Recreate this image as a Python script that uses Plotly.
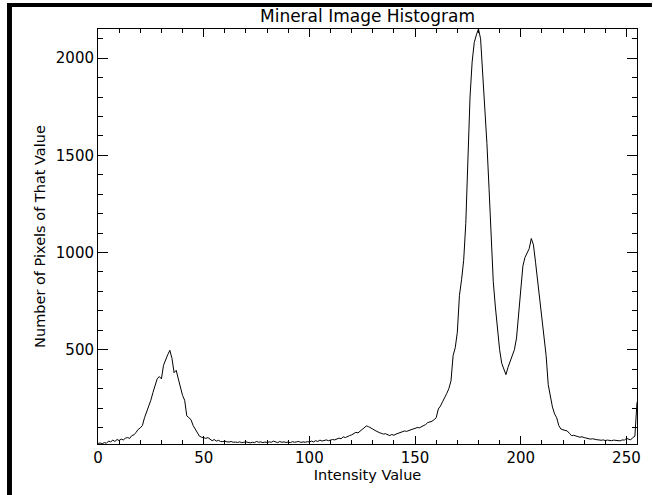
import plotly.graph_objects as go

# Histogram counts for intensity values 0..255
intensity = list(range(256))
counts = [
    18, 20, 17, 22, 19, 30, 26, 35, 28, 38,
    33, 40, 36, 45, 48, 44, 58, 62, 75, 90,
    98, 110, 150, 180, 205, 240, 280, 310, 350, 362,
    350, 420, 450, 475, 497, 455, 382, 394, 350, 305,
    265, 240, 160, 150, 140, 110, 92, 70, 55, 50,
    48, 44, 48, 40, 32, 38, 30, 34, 28, 27,
    30, 26, 25, 28, 24, 25, 23, 26, 22, 24,
    26, 23, 21, 24, 22, 28, 24, 26, 22, 25,
    23, 26, 24, 30, 25, 22, 28, 24, 26, 23,
    25, 22, 27, 24, 26, 28, 23, 26, 24, 27,
    25, 30, 26, 32, 28, 35, 30, 33, 36, 32,
    34, 38, 36, 40, 45, 42, 52, 48, 55, 58,
    62, 68, 75, 72, 80, 88, 96, 108, 104, 100,
    92, 85, 78, 74, 70, 66, 68, 62, 58, 64,
    60, 66, 70, 72, 78, 82, 80, 85, 88, 92,
    95, 100, 98, 104, 108, 115, 125, 128, 132, 140,
    150, 195, 210, 232, 250, 275, 300, 340, 470, 510,
    590, 780, 860, 960, 1150, 1450, 1800, 1980, 2080, 2120,
    2150, 2100, 1930, 1760, 1560, 1330, 1050, 850, 720, 600,
    500, 430, 400, 372, 410, 440, 460, 500, 560, 690,
    820, 930, 975, 995, 1020, 1072, 1040, 950, 860, 760,
    680, 590, 470, 320, 250, 205, 170, 150, 110, 92,
    88, 86, 82, 70, 58, 60, 55, 53, 50, 52,
    48, 46, 44, 40, 42, 38, 37, 36, 34, 36,
    33, 35, 34, 32, 35, 33, 34, 31, 36, 35,
    44, 38, 36, 48, 55, 230,
]

x_ticks = [0, 50, 100, 150, 200, 250]
y_ticks = [500, 1000, 1500, 2000]
title_text = "Mineral Image Histogram"
x_title = "Intensity Value"
y_title = "Number of Pixels of That Value"

FONT = "DejaVu Sans"
W, H = 653, 495
L, R, T, B = 98, 13, 29, 51
PW, PH = W - L - R, H - T - B


def px(xp):
    return (xp - L) / PW


def py(yp):
    return (H - B - yp) / PH


fig = go.Figure()
fig.add_trace(go.Scatter(
    x=intensity, y=counts, mode="lines",
    line=dict(color="black", width=1),
    hoverinfo="skip", showlegend=False,
))

axis_common = dict(
    ticks="inside", tickcolor="black", showline=True, linecolor="black",
    linewidth=1, mirror="allticks", showgrid=False, zeroline=False,
    tickfont=dict(family=FONT, size=15, color="black"),
)

fig.update_layout(
    width=W, height=H,
    margin=dict(l=L, r=R, t=T, b=B, pad=0),
    paper_bgcolor="white", plot_bgcolor="white",
    title=dict(text=title_text, x=0.5, xref="paper", xanchor="center",
               y=1 - 16 / H, yref="container", yanchor="middle",
               font=dict(family=FONT, size=17, color="black")),
    xaxis=dict(range=[0, 255], tickvals=x_ticks, ticklen=8,
               minor=dict(dtick=10, tick0=0, ticklen=4, ticks="inside",
                          tickcolor="black", showgrid=False),
               title=dict(text=x_title, standoff=3,
                          font=dict(family=FONT, size=14.5, color="black")),
               **axis_common),
    yaxis=dict(range=[15, 2150], tickvals=y_ticks, ticklen=10,
               minor=dict(dtick=100, tick0=0, ticklen=5, ticks="inside",
                          tickcolor="black", showgrid=False),
               title=dict(text=y_title, standoff=6,
                          font=dict(family=FONT, size=14.5, color="black")),
               **axis_common),
    shapes=[
        dict(type="rect", xref="paper", yref="paper", layer="above",
             x0=px(6.5), x1=px(11.5), y0=py(H + 2), y1=py(3),
             fillcolor="black", line=dict(width=0)),
        dict(type="rect", xref="paper", yref="paper", layer="above",
             x0=px(6.5), x1=px(W + 2), y0=py(7), y1=py(3),
             fillcolor="black", line=dict(width=0)),
    ],
)

fig.write_html(
    "out.html",
    config={"displayModeBar": False},
    post_script="document.body.style.margin='0';document.body.style.overflow='hidden';",
)
